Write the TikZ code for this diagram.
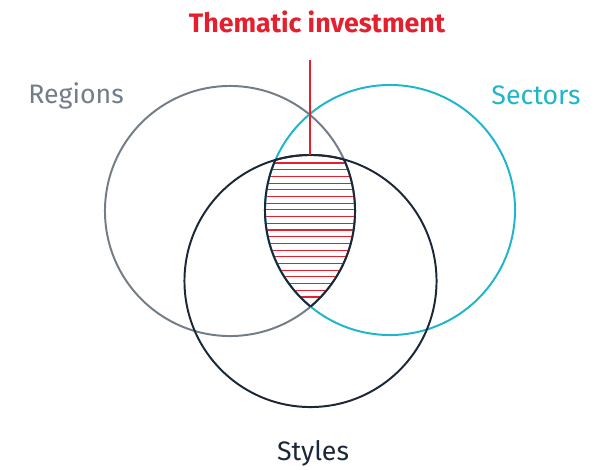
\documentclass[tikz,border=0pt]{standalone}
\usepackage{fontspec}
\setmainfont{Fira Sans}
\definecolor{regiongray}{HTML}{737D88}
\definecolor{sectorcyan}{HTML}{1FB5CB}
\definecolor{stylenavy}{HTML}{1A2838}
\definecolor{themered}{HTML}{E5202E}

\begin{document}
\begin{tikzpicture}[x=0.025cm, y=-0.025cm,
    ring/.style={line width=1.4pt},
    setlabel/.style={font=\fontsize{19}{22}\selectfont, anchor=base}]
    \useasboundingbox (0,0) rectangle (611,469);

    \coordinate (regions) at (230,211);
    \coordinate (sectors) at (390,210);
    \coordinate (styles) at (310.5,281);

    % red hatching where all three sets meet
    \begin{scope}
      \clip (regions) circle (3.125cm);
      \clip (sectors) circle (3.125cm);
      \clip (styles) circle (3.15cm);
      \foreach \i in {0,...,20}
        \draw[themered, line width=0.8pt] (260,{163+6.7*\i}) -- (360,{163+6.7*\i});
    \end{scope}

    \draw[ring, regiongray] (regions) circle (3.125cm);
    \draw[ring, sectorcyan] (sectors) circle (3.125cm);
    \draw[ring, stylenavy] (styles) circle (3.15cm);

    % dark outline of the common part
    \begin{scope}
      \clip (regions) circle (3.125cm);
      \clip (sectors) circle (3.125cm);
      \draw[ring, stylenavy] (styles) circle (3.15cm);
    \end{scope}
    \begin{scope}
      \clip (styles) circle (3.15cm);
      \clip (sectors) circle (3.125cm);
      \draw[ring, stylenavy] (regions) circle (3.125cm);
    \end{scope}
    \begin{scope}
      \clip (styles) circle (3.15cm);
      \clip (regions) circle (3.125cm);
      \draw[ring, stylenavy] (sectors) circle (3.125cm);
    \end{scope}

    \node[setlabel, regiongray] (regionlabel) at (76,103) {Regions};
    \node[setlabel, sectorcyan] (sectorlabel) at (536,104) {Sectors};
    \node[setlabel, stylenavy] (stylelabel) at (313,460) {Styles};

    \node[anchor=base, themered, font=\fontsize{19}{23}\selectfont\bfseries] (theme) at (317,32) {Thematic investment};
    \coordinate (lead) at (310,60);
    \coordinate (apex) at (310,155);
    \draw[themered, line width=0.8pt] (lead) -- (apex);
\end{tikzpicture}
\end{document}
